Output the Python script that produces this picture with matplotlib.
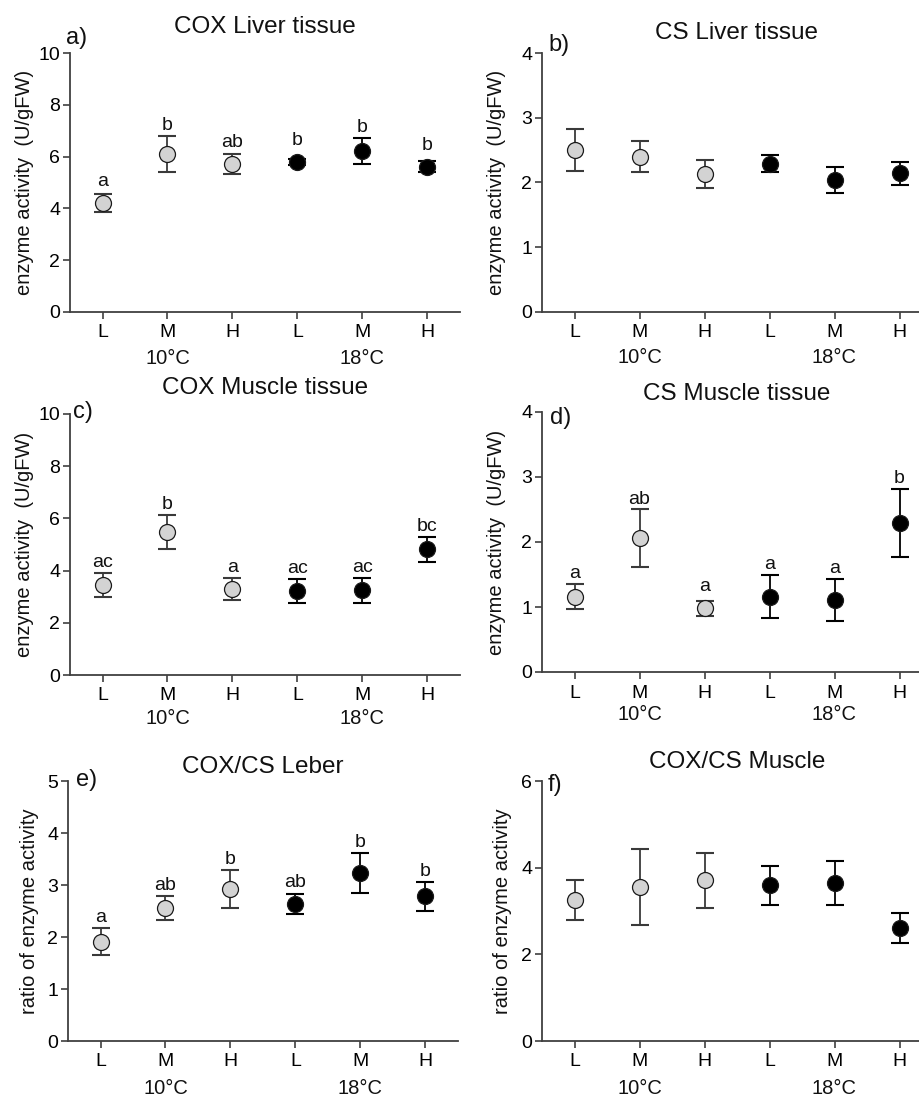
import matplotlib
matplotlib.use("Agg")
import matplotlib.pyplot as plt

plt.rcParams["font.family"] = ["Liberation Sans", "DejaVu Sans"]

W, H = 920, 1097

groups = ["L", "M", "H", "L", "M", "H"]
temperatures = ["10°C", "18°C"]
temp_positions = [2, 5]

cox_liver_mean = [4.22, 6.10, 5.71, 5.80, 6.23, 5.61]
cox_liver_sem = [0.35, 0.69, 0.39, 0.12, 0.50, 0.22]
cox_liver_letters = ["a", "b", "ab", "b", "b", "b"]

cs_liver_mean = [2.50, 2.40, 2.13, 2.29, 2.04, 2.14]
cs_liver_sem = [0.33, 0.24, 0.21, 0.13, 0.20, 0.18]
cs_liver_letters = None

cox_muscle_mean = [3.44, 5.47, 3.30, 3.21, 3.24, 4.82]
cox_muscle_sem = [0.45, 0.66, 0.41, 0.45, 0.48, 0.48]
cox_muscle_letters = ["ac", "b", "a", "ac", "ac", "bc"]

cs_muscle_mean = [1.16, 2.06, 0.98, 1.16, 1.11, 2.29]
cs_muscle_sem = [0.19, 0.44, 0.12, 0.33, 0.32, 0.52]
cs_muscle_letters = ["a", "ab", "a", "a", "a", "b"]

ratio_liver_mean = [1.91, 2.56, 2.92, 2.63, 3.23, 2.78]
ratio_liver_sem = [0.26, 0.23, 0.37, 0.19, 0.39, 0.28]
ratio_liver_letters = ["a", "ab", "b", "ab", "b", "b"]

ratio_muscle_mean = [3.26, 3.55, 3.71, 3.59, 3.65, 2.61]
ratio_muscle_sem = [0.46, 0.87, 0.63, 0.46, 0.50, 0.35]
ratio_muscle_letters = None

panels = [
    dict(tag="a)", title="COX Liver tissue", mean=cox_liver_mean, sem=cox_liver_sem,
         letters=cox_liver_letters, ymax=10, yticks=[0, 2, 4, 6, 8, 10],
         ylabel="enzyme activity  (U/gFW)",
         left=70, top=53, bottom=312, title_y=27, tag_xy=(66, 38), ylab_x=25, temp_dy=46),
    dict(tag="b)", title="CS Liver tissue", mean=cs_liver_mean, sem=cs_liver_sem,
         letters=cs_liver_letters, ymax=4, yticks=[0, 1, 2, 3, 4],
         ylabel="enzyme activity  (U/gFW)",
         left=542, top=53, bottom=312, title_y=33, tag_xy=(548, 45), ylab_x=497, temp_dy=45),
    dict(tag="c)", title="COX Muscle tissue", mean=cox_muscle_mean, sem=cox_muscle_sem,
         letters=cox_muscle_letters, ymax=10, yticks=[0, 2, 4, 6, 8, 10],
         ylabel="enzyme activity  (U/gFW)",
         left=70, top=414, bottom=675, title_y=388, tag_xy=(73, 412), ylab_x=25, temp_dy=44),
    dict(tag="d)", title="CS Muscle tissue", mean=cs_muscle_mean, sem=cs_muscle_sem,
         letters=cs_muscle_letters, ymax=4, yticks=[0, 1, 2, 3, 4],
         ylabel="enzyme activity  (U/gFW)",
         left=542, top=412, bottom=672, title_y=394, tag_xy=(550, 418), ylab_x=497, temp_dy=43),
    dict(tag="e)", title="COX/CS Leber", mean=ratio_liver_mean, sem=ratio_liver_sem,
         letters=ratio_liver_letters, ymax=5, yticks=[0, 1, 2, 3, 4, 5],
         ylabel="ratio of enzyme activity",
         left=68, top=781, bottom=1041, title_y=767, tag_xy=(76, 780), ylab_x=30, temp_dy=48),
    dict(tag="f)", title="COX/CS Muscle", mean=ratio_muscle_mean, sem=ratio_muscle_sem,
         letters=ratio_muscle_letters, ymax=6, yticks=[0, 2, 4, 6],
         ylabel="ratio of enzyme activity",
         left=542, top=781, bottom=1041, title_y=762, tag_xy=(548, 785), ylab_x=503, temp_dy=47),
]

AX_W = 390
SPINE = "#404040"
GRAY_FILL = "#d3d3d3"

fig = plt.figure(figsize=(W / 100, H / 100), dpi=100)


def fx(px):
    return px / W


def fy(py):
    return 1 - py / H


x = list(range(1, len(groups) + 1))
fills = [GRAY_FILL] * 3 + ["black"] * 3
bar_colors = ["#3a3a3a"] * 3 + ["black"] * 3

for p in panels:
    ax = fig.add_axes([fx(p["left"]), fy(p["bottom"]), AX_W / W, (p["bottom"] - p["top"]) / H])
    ax.set_xlim(0.5, 6.5)
    ax.set_ylim(0, p["ymax"])
    ax.set_yticks(p["yticks"])
    ax.set_xticks(x)
    ax.set_xticklabels(groups)
    for side in ("top", "right"):
        ax.spines[side].set_visible(False)
    for side in ("left", "bottom"):
        ax.spines[side].set_color(SPINE)
        ax.spines[side].set_linewidth(1.3)
    ax.tick_params(direction="out", length=5, width=1.2, color=SPINE,
                   labelsize=14, pad=2)
    ax.tick_params(axis="x", pad=4)
    ax.patch.set_visible(False)

    for xi, m, s, fc, ec in zip(x, p["mean"], p["sem"], fills, bar_colors):
        ax.errorbar([xi], [m], yerr=[s], fmt="none", ecolor=ec, elinewidth=1.3,
                    capsize=6.2, capthick=1.5, zorder=2)
        ax.plot([xi], [m], marker="o", markersize=11.5, markerfacecolor=fc,
                markeredgecolor="#1a1a1a", markeredgewidth=0.9, linestyle="none", zorder=3)

    # significance letters above each error bar (or above the marker if the bar is hidden)
    if p["letters"]:
        fig.canvas.draw()
        to_px = ax.transData
        for xi, m, s, lab in zip(x, p["mean"], p["sem"], p["letters"]):
            y_mean = to_px.transform((xi, m))[1]
            y_top = to_px.transform((xi, m + s))[1]
            lift = max(y_top - y_mean, 11) + 2
            ax.annotate(lab, xy=(xi, m), xytext=(0, lift), textcoords="offset pixels",
                        ha="center", va="bottom", fontsize=14, color="#111111")

    # temperature group labels below the tick labels
    for tp, tl in zip(temp_positions, temperatures):
        tx = p["left"] + (tp - 0.5) / 6 * AX_W
        fig.text(fx(tx), fy(p["bottom"] + p["temp_dy"]), tl, ha="center", va="center",
                 fontsize=14.5, color="#111111")

    fig.text(fx(p["left"] + AX_W / 2), fy(p["title_y"]), p["title"], ha="center",
             va="center", fontsize=17.5, color="#111111")
    fig.text(fx(p["tag_xy"][0]), fy(p["tag_xy"][1]), p["tag"], ha="left", va="center",
             fontsize=17, color="#111111")
    fig.text(fx(p["ylab_x"]), fy((p["top"] + p["bottom"]) / 2), p["ylabel"], rotation=90,
             ha="center", va="center", fontsize=14.5, color="#111111")

fig.savefig("out.png", dpi=100)
